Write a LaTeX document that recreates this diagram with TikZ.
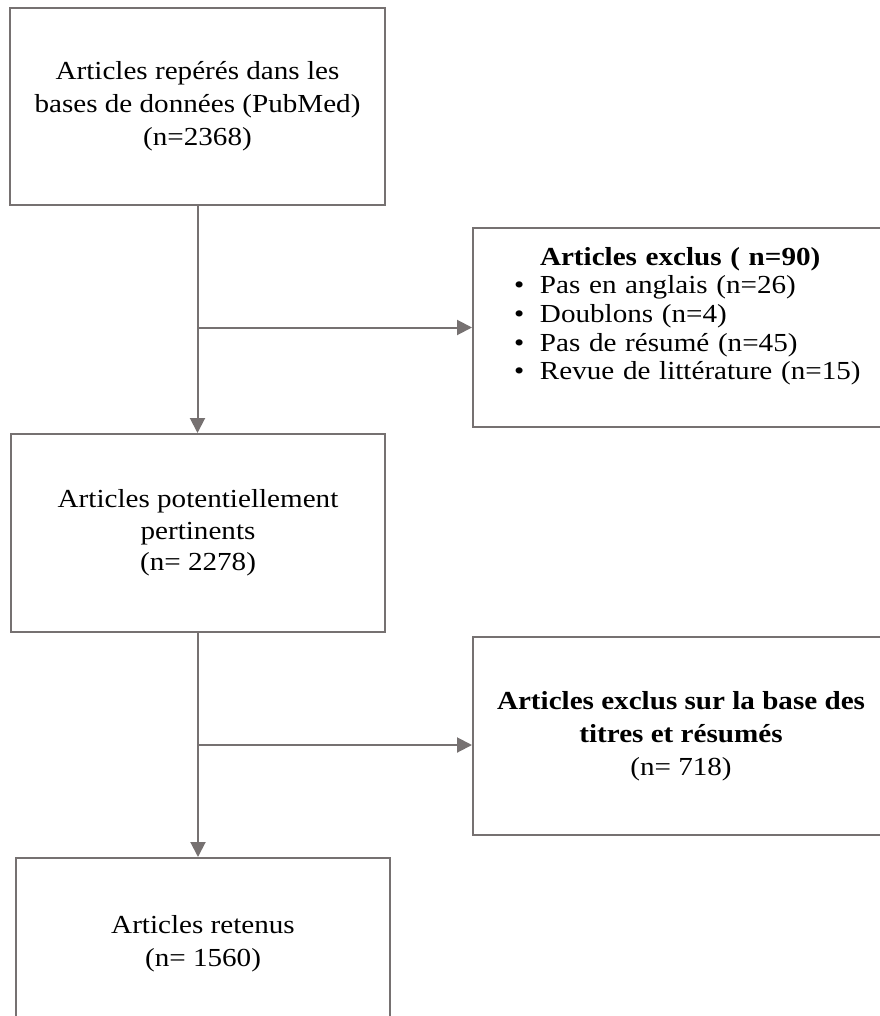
\documentclass[tikz,border=0pt]{standalone}
\usepackage{xcolor}
\usepackage{fontspec}
\setmainfont[FakeStretch=1.12]{Liberation Serif}
\usepackage{tikz}
\usetikzlibrary{arrows.meta}
\definecolor{linegray}{RGB}{118,113,113}

\begin{document}
\begin{tikzpicture}[x=0.75pt,y=-0.75pt,
    box/.style={draw=linegray,line width=1.5pt,align=center,inner sep=0pt},
    flow/.style={draw=linegray,line width=1.5pt,-{Triangle[length=11.25pt,width=11.25pt]}}]
      \useasboundingbox (0,0) rectangle (880,1016);
      \node (found) at (197.5,106.5) [box,minimum width=281.25pt,minimum height=147.75pt,
        font=\fontsize{19.5}{24.75}\selectfont] {Articles repérés dans les\\bases de données (PubMed)\\(n=2368)};
      \node (potential) at (198,533) [box,minimum width=280.5pt,minimum height=148.5pt,
        font=\fontsize{19.5}{23.6}\selectfont] {Articles potentiellement\\pertinents\\(n= 2278)};
      \node (retained) at (203,944) [box,minimum width=280.5pt,minimum height=129pt,
        font=\fontsize{19.5}{24.75}\selectfont] {Articles retenus\\(n= 1560)};
      \node (excl1) at (472,327.5) [box,anchor=west,align=left,text width=270pt,inner xsep=30.75pt,
        text height=14pt,text depth=107.75pt,
        minimum height=149.25pt,font=\fontsize{19.5}{21.5}\selectfont]
        {\hspace*{19.5pt}\textbf{Articles exclus ( n=90)}\\
         \makebox[19.5pt][l]{\textbullet}Pas en anglais (n=26)\\
         \makebox[19.5pt][l]{\textbullet}Doublons (n=4)\\
         \makebox[19.5pt][l]{\textbullet}Pas de résumé (n=45)\\
         \makebox[19.5pt][l]{\textbullet}Revue de littérature (n=15)};
      \node (excl2) at (472,736) [box,anchor=west,minimum width=312pt,minimum height=148.5pt,
        font=\fontsize{19.5}{24.75}\selectfont]
        {\textbf{Articles exclus sur la base des}\\\textbf{titres et résumés}\\(n= 718)};
      \coordinate (split1) at (found.south |- excl1.west);
      \coordinate (split2) at (198,745);
      \draw [flow] (found.south) -- (found.south |- potential.north);
      \draw [flow] (split1) -- (excl1.west);
      \draw [flow] (potential.south) -- (potential.south |- retained.north);
      \draw [flow] (split2) -- (split2 -| excl2.west);
    \end{tikzpicture}
\end{document}
